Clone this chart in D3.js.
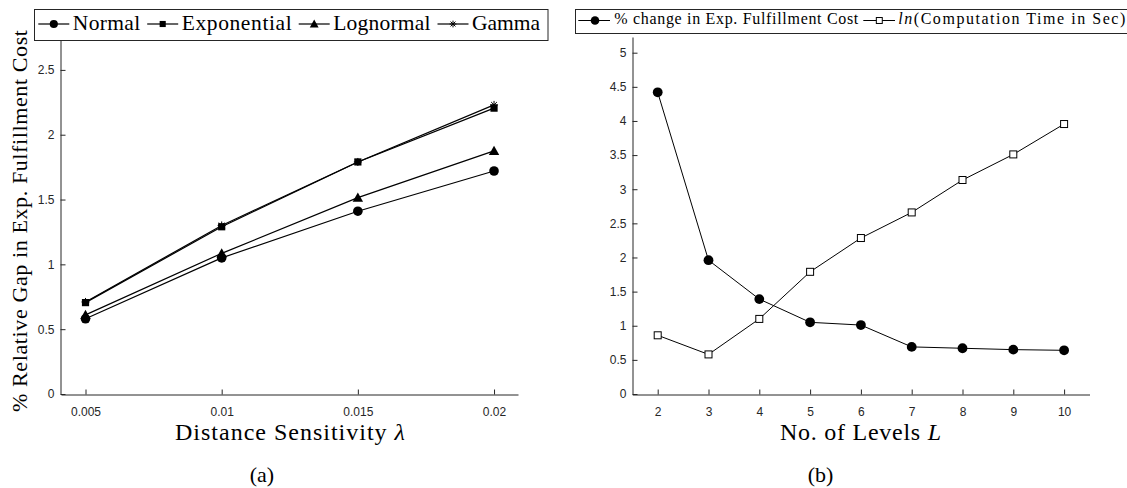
<!DOCTYPE html>
<html><head><meta charset="utf-8">
<script src="https://cdn.jsdelivr.net/npm/d3@7"></script>
<style>body{margin:0;background:#fff} svg{display:block}</style>
</head><body>
<svg id="c" width="1127" height="488"></svg>
<script>
// ---------- data: panel (a) ----------
const lambdas = [0.005, 0.01, 0.015, 0.02];
const normalGap = [0.58, 1.05, 1.41, 1.72];
const exponentialGap = [0.705, 1.29, 1.79, 2.205];
const lognormalGap = [0.61, 1.085, 1.515, 1.875];
const gammaGap = [0.71, 1.30, 1.79, 2.23];
const leftSeriesNames = ["Normal", "Exponential", "Lognormal", "Gamma"];
const leftXTicks = [0.005, 0.01, 0.015, 0.02];
const leftXTickLabels = ["0.005", "0.01", "0.015", "0.02"];
const leftYTicks = [0, 0.5, 1, 1.5, 2, 2.5];
const leftYTickLabels = ["0", "0.5", "1", "1.5", "2", "2.5"];

// ---------- data: panel (b) ----------
const levels = [2, 3, 4, 5, 6, 7, 8, 9, 10];
const costChange = [4.42, 1.96, 1.39, 1.05, 1.01, 0.69, 0.67, 0.65, 0.64];
const lnCompTime = [0.86, 0.58, 1.10, 1.79, 2.285, 2.66, 3.135, 3.51, 3.955];
const rightXTicks = [2, 3, 4, 5, 6, 7, 8, 9, 10];
const rightYTicks = [0, 0.5, 1, 1.5, 2, 2.5, 3, 3.5, 4, 4.5, 5];
const rightYTickLabels = ["0", "0.5", "1", "1.5", "2", "2.5", "3", "3.5", "4", "4.5", "5"];

const svg = d3.select("#c");
const AX = "#262626";
const SERIF = "'Liberation Serif', 'Times New Roman', serif";
const SANS = "'Liberation Sans', Arial, Helvetica, sans-serif";

function styleAxis(g) {
  g.select(".domain").attr("stroke", AX).attr("stroke-width", 1);
  g.selectAll(".tick line").attr("stroke", AX).attr("stroke-width", 1);
  g.selectAll(".tick text").attr("fill", AX).style("font-family", SANS).style("font-size", "12px");
}

function marker(g, type, x, y, s) {
  s = s || 1;
  if (type === "circle") {
    g.append("circle").attr("cx", x).attr("cy", y).attr("r", 4.8 * s).attr("fill", "#000");
  } else if (type === "square") {
    const h = 3.6 * s;
    g.append("rect").attr("x", x - h).attr("y", y - h).attr("width", 2 * h).attr("height", 2 * h).attr("fill", "#000");
  } else if (type === "triangle") {
    const h = 5.2 * s;
    g.append("path").attr("d", `M${x},${y - h}L${x + h},${y + h * 0.8}L${x - h},${y + h * 0.8}Z`).attr("fill", "#000");
  } else if (type === "asterisk") {
    const h = 4 * s, d = h * 0.72;
    g.append("path").attr("d", `M${x},${y - h}V${y + h}M${x - h},${y}H${x + h}M${x - d},${y - d}L${x + d},${y + d}M${x - d},${y + d}L${x + d},${y - d}`)
      .attr("stroke", "#000").attr("stroke-width", 1).attr("fill", "none");
  } else if (type === "opensquare") {
    const h = 3.5 * s;
    g.append("rect").attr("x", x - h).attr("y", y - h).attr("width", 2 * h).attr("height", 2 * h)
      .attr("fill", "#fff").attr("stroke", "#000").attr("stroke-width", 1);
  }
}

// ================= Panel (a) =================
const xa = d3.scaleLinear().domain([0.0041, 0.02088]).range([61, 518]);
const ya = d3.scaleLinear().domain([0, 2.8]).range([394, 31]);

const ga = svg.append("g");
ga.append("g").attr("transform", "translate(0,394.5)")
  .call(d3.axisBottom(xa).tickValues(leftXTicks).tickFormat((d, i) => leftXTickLabels[i]).tickSizeInner(-5).tickSizeOuter(0).tickPadding(13))
  .call(styleAxis);
ga.append("g").attr("transform", "translate(60.5,0)")
  .call(d3.axisLeft(ya).tickValues(leftYTicks).tickFormat((d, i) => leftYTickLabels[i]).tickSizeInner(-5).tickSizeOuter(0).tickPadding(6))
  .call(styleAxis);

const leftSeries = [
  {name: leftSeriesNames[0], vals: normalGap, m: "circle"},
  {name: leftSeriesNames[1], vals: exponentialGap, m: "square"},
  {name: leftSeriesNames[2], vals: lognormalGap, m: "triangle"},
  {name: leftSeriesNames[3], vals: gammaGap, m: "asterisk"}
];
const lineA = d3.line().x((d, i) => xa(lambdas[i])).y(d => ya(d));
leftSeries.forEach(s => {
  ga.append("path").attr("d", lineA(s.vals)).attr("fill", "none").attr("stroke", "#000").attr("stroke-width", 1.2);
  s.vals.forEach((v, i) => marker(ga, s.m, xa(lambdas[i]), ya(v), 1));
});

// y label
ga.append("text").attr("transform", "translate(27,221) rotate(-90)")
  .attr("text-anchor", "middle").style("font-family", SERIF).style("font-size", "22px")
  .attr("textLength", 382).attr("lengthAdjust", "spacing")
  .text("% Relative Gap in Exp. Fulfillment Cost");
// x label
const xlA = ga.append("text").attr("x", 290).attr("y", 440).attr("text-anchor", "middle")
  .style("font-family", SERIF).style("font-size", "24px").attr("textLength", 230).attr("lengthAdjust", "spacing");
xlA.append("tspan").text("Distance Sensitivity ");
xlA.append("tspan").style("font-style", "italic").text("λ");
ga.append("text").attr("x", 262).attr("y", 482).attr("text-anchor", "middle")
  .style("font-family", SERIF).style("font-size", "22px").text("(a)");

// legend (a)
const legA = svg.append("g");
legA.append("rect").attr("x", 34.5).attr("y", 9.5).attr("width", 513.5).attr("height", 31)
  .attr("fill", "#fff").attr("stroke", AX).attr("stroke-width", 1);
const legAWidths = [67.4, 110, 97.3, 68];
let lx = 38.3;
leftSeries.forEach((s, i) => {
  legA.append("line").attr("x1", lx).attr("x2", lx + 31).attr("y1", 24).attr("y2", 24).attr("stroke", "#000").attr("stroke-width", 1.2);
  marker(legA, s.m, lx + 15.5, 24, 0.85);
  legA.append("text").attr("x", lx + 34.5).attr("y", 30).style("font-family", SERIF).style("font-size", "21.5px")
    .attr("textLength", legAWidths[i]).attr("lengthAdjust", "spacing").text(s.name);
  lx = lx + 34.5 + legAWidths[i] + 7;
});

// ================= Panel (b) =================
const xb = d3.scaleLinear().domain([1.5, 10.5]).range([632.3, 1089.5]);
const yb = d3.scaleLinear().domain([0, 5.23]).range([394, 37]);
const gb = svg.append("g");
gb.append("g").attr("transform", "translate(0,394.5)")
  .call(d3.axisBottom(xb).tickValues(rightXTicks).tickFormat(d3.format("d")).tickSizeInner(-5).tickSizeOuter(0).tickPadding(13))
  .call(styleAxis);
gb.append("g").attr("transform", "translate(632.5,0)")
  .call(d3.axisLeft(yb).tickValues(rightYTicks).tickFormat((d, i) => rightYTickLabels[i]).tickSizeInner(-5).tickSizeOuter(0).tickPadding(6))
  .call(styleAxis);

const lineB = d3.line().x((d, i) => xb(levels[i])).y(d => yb(d));
gb.append("path").attr("d", lineB(costChange)).attr("fill", "none").attr("stroke", "#000").attr("stroke-width", 1);
costChange.forEach((v, i) => marker(gb, "circle", xb(levels[i]), yb(v), 1.02));
gb.append("path").attr("d", lineB(lnCompTime)).attr("fill", "none").attr("stroke", "#000").attr("stroke-width", 1);
lnCompTime.forEach((v, i) => marker(gb, "opensquare", xb(levels[i]), yb(v), 1));

const xlB = gb.append("text").attr("x", 860.5).attr("y", 440).attr("text-anchor", "middle")
  .style("font-family", SERIF).style("font-size", "24px").attr("textLength", 161).attr("lengthAdjust", "spacing");
xlB.append("tspan").text("No. of Levels ");
xlB.append("tspan").style("font-style", "italic").text("L");
gb.append("text").attr("x", 820.5).attr("y", 482).attr("text-anchor", "middle")
  .style("font-family", SERIF).style("font-size", "22px").text("(b)");

// legend (b)
const legB = svg.append("g");
legB.append("rect").attr("x", 575.5).attr("y", 9.5).attr("width", 560).attr("height", 24)
  .attr("fill", "#fff").attr("stroke", AX).attr("stroke-width", 1);
legB.append("line").attr("x1", 578.3).attr("x2", 610).attr("y1", 20.5).attr("y2", 20.5).attr("stroke", "#000").attr("stroke-width", 1);
marker(legB, "circle", 595, 20.5, 0.9);
legB.append("text").attr("x", 614.3).attr("y", 24).style("font-family", SERIF).style("font-size", "16px")
  .attr("textLength", 244).attr("lengthAdjust", "spacing").text("% change in Exp. Fulfillment Cost");
legB.append("line").attr("x1", 863.3).attr("x2", 895).attr("y1", 20.5).attr("y2", 20.5).attr("stroke", "#000").attr("stroke-width", 1);
marker(legB, "opensquare", 879.3, 20.5, 0.85);
const t2 = legB.append("text").attr("x", 898.3).attr("y", 24).style("font-family", SERIF).style("font-size", "16px")
  .attr("textLength", 227).attr("lengthAdjust", "spacing");
t2.append("tspan").style("font-style", "italic").text("ln");
t2.append("tspan").text("(Computation Time in Sec)");
</script>
</body></html>
